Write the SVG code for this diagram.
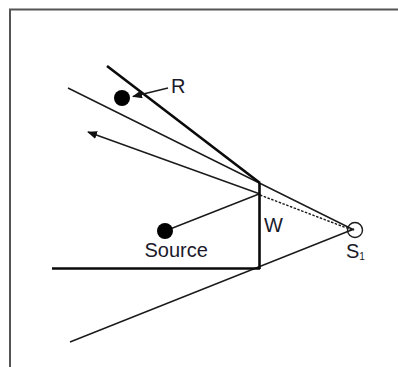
<svg xmlns="http://www.w3.org/2000/svg" width="398" height="367" viewBox="0 0 398 367">
<style>
.t{font-family:"Liberation Sans",Arial,sans-serif;font-size:20px;fill:#1a1a2a}
.thin{stroke:#1a1a1a;stroke-width:1.400;fill:none}
.thick{stroke:#0a0a0a;stroke-width:2.600;fill:none}
.dot{fill:#000}
</style>
<defs>
<marker id="a" markerUnits="userSpaceOnUse" markerWidth="10" markerHeight="8" refX="9" refY="4" orient="auto"><path d="M0 0L10 4L0 8Z" fill="#111"/></marker>
</defs>
<rect width="398" height="367" fill="#fff"/>
<path d="M10 367V9.500H398" fill="none" stroke="#555" stroke-width="2"/>
<g id="connectors">
<path class="thin" d="M68 88L354 230"/>
<path class="thin" d="M70 342L354 229"/>
<path class="thin" d="M260 194L88 132" marker-end="url(#a)"/>
<path class="thin" d="M259 194L165 231"/>
<path class="thin" d="M260 195L352 230" stroke-dasharray="2.500 1.500"/>
<path class="thick" d="M107 66L260 183"/>
<path class="thick" d="M259.500 183V269"/>
<path class="thick" d="M52 268.500H260"/>
<path class="thin" d="M168 88L133 96.500" marker-end="url(#a)"/>
</g>
<g id="node-r"><circle class="dot" cx="122" cy="98" r="8"/><text class="t" x="171" y="93">R</text></g>
<g id="node-source"><circle class="dot" cx="165" cy="231" r="8"/><text class="t" x="144.500" y="257">Source</text></g>
<g id="node-w"><text class="t" x="264" y="232">W</text></g>
<g id="node-s1"><circle cx="355" cy="230" r="7.500" fill="none" stroke="#1a1a1a" stroke-width="1.400"/><text class="t" x="346" y="258">S<tspan font-size="10" dy="2">1</tspan></text></g>
</svg>
